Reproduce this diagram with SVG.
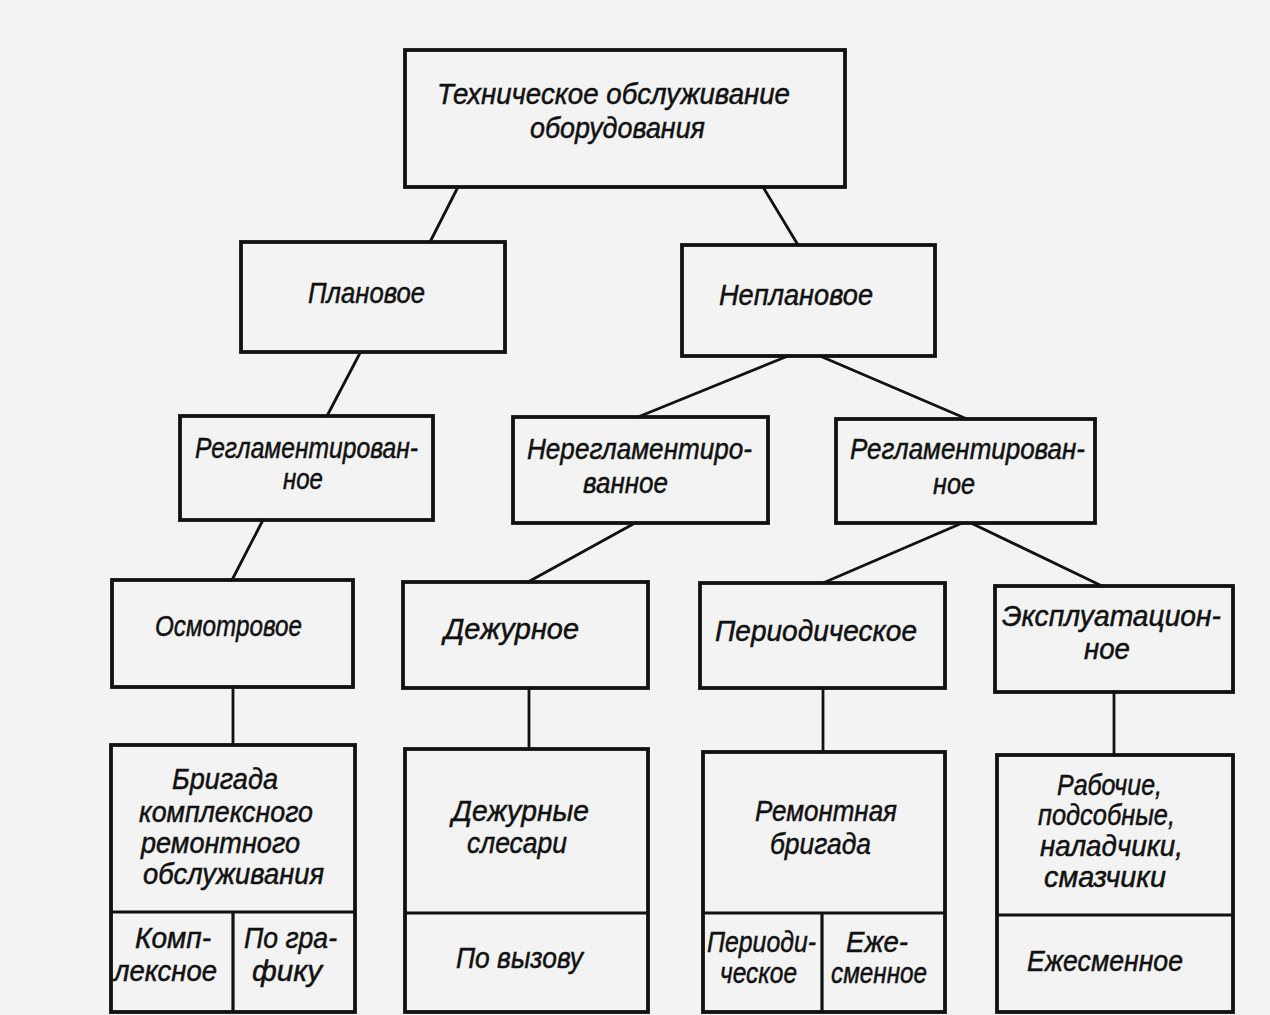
<svg xmlns="http://www.w3.org/2000/svg" width="1270" height="1015" viewBox="0 0 1270 1015">
  <style>
    .box { fill: none; stroke: #111; stroke-width: 3.8; stroke-linejoin: miter; }
    .div { fill: none; stroke: #111; stroke-width: 3.2; }
    .link { fill: none; stroke: #111; stroke-width: 2.8; stroke-linecap: round; }
    .t { font-family: "Liberation Sans", "DejaVu Sans", sans-serif; font-style: italic; font-size: 30px; fill: #111; stroke: #111; stroke-width: 0.5; }
  </style>
  <rect x="0" y="0" width="1270" height="1015" fill="#f3f3f3"/>

  <!-- connectors -->
  <g id="connectors">
    <line class="link" x1="458" y1="187" x2="430" y2="242"/>
    <line class="link" x1="763" y1="187" x2="798" y2="245"/>
    <line class="link" x1="360" y1="353" x2="327" y2="416"/>
    <line class="link" x1="788" y1="356" x2="638" y2="417"/>
    <line class="link" x1="820" y1="356" x2="967" y2="419"/>
    <line class="link" x1="263" y1="520" x2="232" y2="580"/>
    <line class="link" x1="635" y1="523" x2="528" y2="582"/>
    <line class="link" x1="960" y1="524" x2="823" y2="583"/>
    <line class="link" x1="973" y1="524" x2="1102" y2="586"/>
    <line class="link" x1="233" y1="687" x2="233" y2="745"/>
    <line class="link" x1="529" y1="688" x2="529" y2="749"/>
    <line class="link" x1="823" y1="688" x2="823" y2="752"/>
    <line class="link" x1="1114" y1="692" x2="1114" y2="755"/>
  </g>

  <!-- root -->
  <g id="n-root">
    <rect class="box" x="405" y="50" width="440" height="137"/>
    <text class="t" x="437" y="104" textLength="353" lengthAdjust="spacingAndGlyphs">Техническое обслуживание</text>
    <text class="t" x="530" y="138" textLength="175" lengthAdjust="spacingAndGlyphs">оборудования</text>
  </g>

  <!-- level 1 -->
  <g id="n-planned">
    <rect class="box" x="241" y="242" width="264" height="110"/>
    <text class="t" x="308" y="303" textLength="117" lengthAdjust="spacingAndGlyphs">Плановое</text>
  </g>
  <g id="n-unplanned">
    <rect class="box" x="682" y="245" width="253" height="111"/>
    <text class="t" x="719" y="305" textLength="154" lengthAdjust="spacingAndGlyphs">Неплановое</text>
  </g>

  <!-- level 2 -->
  <g id="n-regulated-1">
    <rect class="box" x="180" y="416" width="253" height="104"/>
    <text class="t" x="195" y="458" textLength="223" lengthAdjust="spacingAndGlyphs">Регламентирован-</text>
    <text class="t" x="283" y="489" textLength="40" lengthAdjust="spacingAndGlyphs">ное</text>
  </g>
  <g id="n-unregulated">
    <rect class="box" x="513" y="417" width="255" height="106"/>
    <text class="t" x="527" y="459" textLength="225" lengthAdjust="spacingAndGlyphs">Нерегламентиро-</text>
    <text class="t" x="583" y="493" textLength="85" lengthAdjust="spacingAndGlyphs">ванное</text>
  </g>
  <g id="n-regulated-2">
    <rect class="box" x="836" y="419" width="259" height="104"/>
    <text class="t" x="850" y="459" textLength="235" lengthAdjust="spacingAndGlyphs">Регламентирован-</text>
    <text class="t" x="933" y="494" textLength="42" lengthAdjust="spacingAndGlyphs">ное</text>
  </g>

  <!-- level 3 -->
  <g id="n-inspection">
    <rect class="box" x="112" y="580" width="241" height="107"/>
    <text class="t" x="155" y="636" textLength="147" lengthAdjust="spacingAndGlyphs">Осмотровое</text>
  </g>
  <g id="n-duty">
    <rect class="box" x="403" y="582" width="245" height="106"/>
    <text class="t" x="444" y="639" textLength="135" lengthAdjust="spacingAndGlyphs">Дежурное</text>
  </g>
  <g id="n-periodic">
    <rect class="box" x="700" y="583" width="245" height="105"/>
    <text class="t" x="715" y="641" textLength="202" lengthAdjust="spacingAndGlyphs">Периодическое</text>
  </g>
  <g id="n-operational">
    <rect class="box" x="995" y="586" width="238" height="106"/>
    <text class="t" x="1002" y="626" textLength="219" lengthAdjust="spacingAndGlyphs">Эксплуатацион-</text>
    <text class="t" x="1084" y="659" textLength="46" lengthAdjust="spacingAndGlyphs">ное</text>
  </g>

  <!-- level 4: staff and schedule -->
  <g id="n-complex-team">
    <rect class="box" x="111" y="745" width="244" height="267"/>
    <line class="div" x1="111" y1="912" x2="355" y2="912"/>
    <line class="div" x1="233" y1="912" x2="233" y2="1012"/>
    <text class="t" x="172" y="789" textLength="106" lengthAdjust="spacingAndGlyphs">Бригада</text>
    <text class="t" x="139" y="822" textLength="174" lengthAdjust="spacingAndGlyphs">комплексного</text>
    <text class="t" x="141" y="853" textLength="159" lengthAdjust="spacingAndGlyphs">ремонтного</text>
    <text class="t" x="143" y="884" textLength="181" lengthAdjust="spacingAndGlyphs">обслуживания</text>
    <text class="t" x="135" y="948" textLength="76" lengthAdjust="spacingAndGlyphs">Комп-</text>
    <text class="t" x="114" y="981" textLength="103" lengthAdjust="spacingAndGlyphs">лексное</text>
    <text class="t" x="244" y="948" textLength="93" lengthAdjust="spacingAndGlyphs">По гра-</text>
    <text class="t" x="252" y="981" textLength="70" lengthAdjust="spacingAndGlyphs">фику</text>
  </g>
  <g id="n-duty-fitters">
    <rect class="box" x="405" y="749" width="243" height="263"/>
    <line class="div" x1="405" y1="913" x2="648" y2="913"/>
    <text class="t" x="452" y="821" textLength="137" lengthAdjust="spacingAndGlyphs">Дежурные</text>
    <text class="t" x="467" y="853" textLength="100" lengthAdjust="spacingAndGlyphs">слесари</text>
    <text class="t" x="456" y="968" textLength="127" lengthAdjust="spacingAndGlyphs">По вызову</text>
  </g>
  <g id="n-repair-team">
    <rect class="box" x="703" y="752" width="242" height="260"/>
    <line class="div" x1="703" y1="913" x2="945" y2="913"/>
    <line class="div" x1="822" y1="913" x2="822" y2="1012"/>
    <text class="t" x="755" y="821" textLength="142" lengthAdjust="spacingAndGlyphs">Ремонтная</text>
    <text class="t" x="770" y="854" textLength="101" lengthAdjust="spacingAndGlyphs">бригада</text>
    <text class="t" x="707" y="952" textLength="109" lengthAdjust="spacingAndGlyphs">Периоди-</text>
    <text class="t" x="720" y="983" textLength="77" lengthAdjust="spacingAndGlyphs">ческое</text>
    <text class="t" x="846" y="952" textLength="62" lengthAdjust="spacingAndGlyphs">Еже-</text>
    <text class="t" x="831" y="983" textLength="96" lengthAdjust="spacingAndGlyphs">сменное</text>
  </g>
  <g id="n-workers">
    <rect class="box" x="997" y="755" width="236" height="257"/>
    <line class="div" x1="997" y1="915" x2="1233" y2="915"/>
    <text class="t" x="1057" y="795" textLength="105" lengthAdjust="spacingAndGlyphs">Рабочие,</text>
    <text class="t" x="1038" y="825" textLength="137" lengthAdjust="spacingAndGlyphs">подсобные,</text>
    <text class="t" x="1040" y="856" textLength="143" lengthAdjust="spacingAndGlyphs">наладчики,</text>
    <text class="t" x="1044" y="887" textLength="122" lengthAdjust="spacingAndGlyphs">смазчики</text>
    <text class="t" x="1027" y="971" textLength="156" lengthAdjust="spacingAndGlyphs">Ежесменное</text>
  </g>
</svg>
